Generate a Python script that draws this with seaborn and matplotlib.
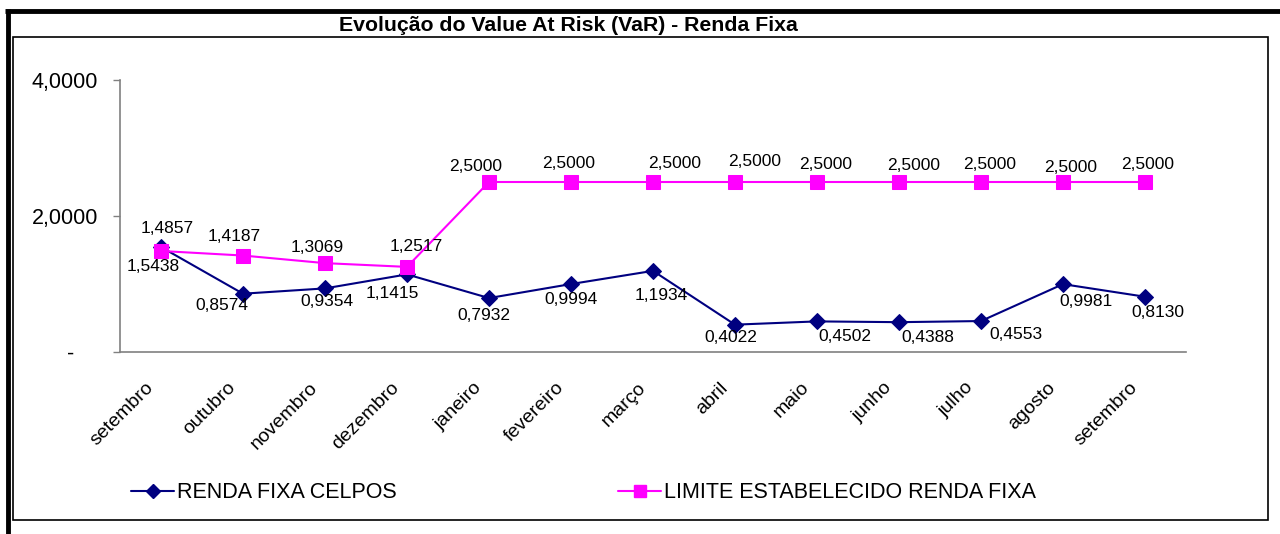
import numpy as np
import pandas as pd
import seaborn as sns
import matplotlib.pyplot as plt
from matplotlib.lines import Line2D
from matplotlib.patches import Rectangle
from matplotlib.transforms import ScaledTranslation

meses = ['setembro', 'outubro', 'novembro', 'dezembro', 'janeiro', 'fevereiro',
         'março', 'abril', 'maio', 'junho', 'julho', 'agosto', 'setembro']
renda_fixa = [1.5438, 0.8574, 0.9354, 1.1415, 0.7932, 0.9994, 1.1934,
              0.4022, 0.4502, 0.4388, 0.4553, 0.9981, 0.8130]
limite = [1.4857, 1.4187, 1.3069, 1.2517, 2.5, 2.5, 2.5,
          2.5, 2.5, 2.5, 2.5, 2.5, 2.5]
y_ticks = [0, 2, 4]
y_labels = ['-    ', '2,0000', '4,0000']
series_names = ['RENDA FIXA CELPOS', 'LIMITE ESTABELECIDO RENDA FIXA']

# label nudges in pixels (Excel's placement), kept apart from the values
renda_dx = [-8, -21, 2, -15, -5, 0, 8, -4, 28, 29, 35, 23, 13]
renda_dy = [19, 12, 13, 19, 17, 15, 25, 13, 15, 15, 13, 17, 16]
limite_dx = [6, -9, -8, 9, -13, -2, 22, 20, 9, 15, 9, 8, 3]
limite_dy = [22, 19, 16, 20, 16, 19, 19, 21, 18, 17, 18, 15, 18]

sns.set_style('white')
plt.rcParams['font.family'] = ['Liberation Sans', 'DejaVu Sans']
plt.rcParams['text.color'] = 'black'
plt.rcParams['xtick.color'] = 'black'
plt.rcParams['ytick.color'] = 'black'

df = pd.DataFrame({'pos': np.arange(len(meses)) + 0.5,
                   'renda': renda_fixa, 'limite': limite})

fig = plt.figure(figsize=(12.8, 5.34), dpi=100)
ax = fig.add_axes([0.09375, 0.3408, 0.8328, 0.5094])

sns.lineplot(data=df, x='pos', y='renda', ax=ax, color='#000080', marker='D',
             markersize=8, markeredgecolor='#000080', linewidth=1.5)
sns.lineplot(data=df, x='pos', y='limite', ax=ax, color='#FF00FF', marker='s',
             markersize=10, markeredgecolor='#FF00FF', linewidth=1.5)

def fmt(v):
    return f'{v:.4f}'.replace('.', ',')

px = 0.72  # points per pixel at dpi 100
for x, v, dx, dy in zip(df['pos'], renda_fixa, renda_dx, renda_dy):
    ax.annotate(fmt(v), (x, v), xytext=(dx * px, -dy * px),
                textcoords='offset points', ha='center', va='center', fontsize=12.5)
for x, v, dx, dy in zip(df['pos'], limite, limite_dx, limite_dy):
    ax.annotate(fmt(v), (x, v), xytext=(dx * px, dy * px),
                textcoords='offset points', ha='center', va='center', fontsize=12.5)

ax.set_xlim(0, len(meses))
ax.set_ylim(0, 4)
ax.set_xticks(np.arange(len(meses) + 1))
ax.set_xticklabels([])
ax.set_xticks(df['pos'], minor=True)
ax.set_xticklabels(meses, minor=True, rotation=45, ha='right', va='center',
                   rotation_mode='anchor', fontsize=14)
ax.tick_params(axis='x', which='minor', length=0, pad=0)
shift = ScaledTranslation(-0.10, -0.33, fig.dpi_scale_trans)
for lbl in ax.get_xticklabels(minor=True):
    lbl.set_transform(lbl.get_transform() + shift)
ax.tick_params(axis='x', which='major', length=5, width=1, color='#808080',
               direction='out')
ax.set_yticks(y_ticks)
ax.set_yticklabels(y_labels, fontsize=15.5)
ax.tick_params(axis='y', length=5, width=1, color='#808080', direction='out',
               left=True, pad=11)
ax.set_xlabel('')
ax.set_ylabel('')
for s in ['top', 'right']:
    ax.spines[s].set_visible(False)
for s in ['left', 'bottom']:
    ax.spines[s].set_color('#808080')
    ax.spines[s].set_linewidth(1.2)

fig.text(0.444, 0.953, 'Evolução do Value At Risk (VaR) - Renda Fixa',
         ha='center', va='center', fontsize=15.3, fontweight='bold')

handles = [Line2D([], [], color='#000080', marker='D', markersize=7, lw=1.5),
           Line2D([], [], color='#FF00FF', marker='s', markersize=9, lw=1.5)]
for h, name, x0 in zip(handles, series_names, [131 / 1280, 618 / 1280]):
    fig.legend([h], [name], loc='center left', bbox_to_anchor=(x0, 0.0768),
               frameon=False, fontsize=15.5, handlelength=2.0,
               handletextpad=0.15, borderpad=0, borderaxespad=0)

# frame lines
fig.add_artist(Line2D([5 / 1280, 1], [1 - 10.5 / 534] * 2, color='black', lw=3.5,
                      solid_capstyle='butt', transform=fig.transFigure))
fig.add_artist(Line2D([7.5 / 1280] * 2, [0, 1 - 9 / 534], color='black', lw=3.5,
                      solid_capstyle='butt', transform=fig.transFigure))
fig.add_artist(Rectangle((13 / 1280, 1 - 520 / 534), 1255 / 1280, 483 / 534,
                         fill=False, edgecolor='black', lw=1.2,
                         transform=fig.transFigure))

fig.savefig('out.png', dpi=100)
